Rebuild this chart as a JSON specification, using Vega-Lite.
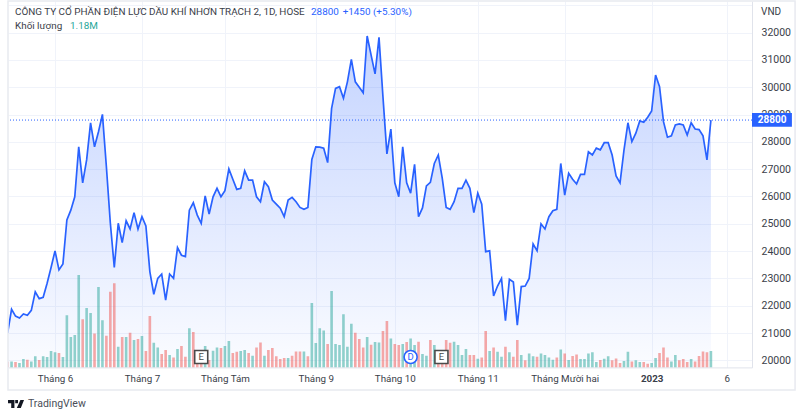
{"$schema":"https://vega.github.io/schema/vega-lite/v6.json","width":744,"height":366.4,"autosize":{"type":"none"},"padding":{"left":8,"top":1,"right":48,"bottom":50.6},"background":"white","config":{"view":{"stroke":null},"font":"Roboto","text":{"font":"Roboto"}},
"datasets":{"s":[
{"i":0,"price":21000,"volume":0.41,"dir":"down"},{"i":1,"price":21870,"volume":0.43,"dir":"up"},{"i":2,"price":21620,"volume":0.39,"dir":"down"},{"i":3,"price":21550,"volume":0.31,"dir":"up"},{"i":4,"price":21700,"volume":0.6,"dir":"up"},{"i":5,"price":21650,"volume":0.56,"dir":"down"},{"i":6,"price":21830,"volume":0.43,"dir":"up"},{"i":7,"price":22510,"volume":0.8,"dir":"up"},{"i":8,"price":22260,"volume":0.53,"dir":"down"},{"i":9,"price":22310,"volume":0.8,"dir":"up"},
{"i":10,"price":22820,"volume":0.75,"dir":"up"},{"i":11,"price":23400,"volume":1.18,"dir":"up"},{"i":12,"price":24010,"volume":1.09,"dir":"up"},{"i":13,"price":23310,"volume":1.04,"dir":"down"},{"i":14,"price":23530,"volume":0.75,"dir":"up"},{"i":15,"price":25140,"volume":3.77,"dir":"up"},{"i":16,"price":25500,"volume":2.2,"dir":"up"},{"i":17,"price":25990,"volume":2.34,"dir":"up"},{"i":18,"price":27820,"volume":6.69,"dir":"up"},{"i":19,"price":26500,"volume":3.48,"dir":"down"},
{"i":20,"price":27340,"volume":4.3,"dir":"up"},{"i":21,"price":28700,"volume":3.94,"dir":"up"},{"i":22,"price":27820,"volume":2.46,"dir":"down"},{"i":23,"price":28370,"volume":5.82,"dir":"up"},{"i":24,"price":29010,"volume":3.41,"dir":"up"},{"i":25,"price":27090,"volume":2.29,"dir":"down"},{"i":26,"price":25030,"volume":5.48,"dir":"down"},{"i":27,"price":23400,"volume":6.09,"dir":"down"},{"i":28,"price":25020,"volume":1.5,"dir":"up"},{"i":29,"price":24310,"volume":2.2,"dir":"down"},
{"i":30,"price":25110,"volume":2.2,"dir":"up"},{"i":31,"price":24810,"volume":2.51,"dir":"down"},{"i":32,"price":25410,"volume":1.98,"dir":"up"},{"i":33,"price":24810,"volume":2.05,"dir":"down"},{"i":34,"price":25260,"volume":2.27,"dir":"up"},{"i":35,"price":24920,"volume":1.18,"dir":"down"},{"i":36,"price":23250,"volume":3.72,"dir":"down"},{"i":37,"price":22420,"volume":1.79,"dir":"up"},{"i":38,"price":23000,"volume":1.45,"dir":"up"},{"i":39,"price":23160,"volume":0.97,"dir":"down"},
{"i":40,"price":22200,"volume":1.26,"dir":"down"},{"i":41,"price":23160,"volume":0.89,"dir":"up"},{"i":42,"price":23000,"volume":0.72,"dir":"down"},{"i":43,"price":24130,"volume":1.33,"dir":"up"},{"i":44,"price":23850,"volume":1.55,"dir":"down"},{"i":45,"price":23800,"volume":0.77,"dir":"down"},{"i":46,"price":25500,"volume":2.83,"dir":"up"},{"i":47,"price":25770,"volume":2.56,"dir":"down"},{"i":48,"price":25320,"volume":0.53,"dir":"down"},{"i":49,"price":25020,"volume":0.29,"dir":"down"},
{"i":50,"price":26020,"volume":1.55,"dir":"up"},{"i":51,"price":25360,"volume":0.53,"dir":"down"},{"i":52,"price":25990,"volume":1.21,"dir":"up"},{"i":53,"price":26300,"volume":1.45,"dir":"up"},{"i":54,"price":25990,"volume":1.4,"dir":"down"},{"i":55,"price":26210,"volume":1.55,"dir":"up"},{"i":56,"price":27010,"volume":1.91,"dir":"up"},{"i":57,"price":26630,"volume":1.04,"dir":"down"},{"i":58,"price":26260,"volume":1.14,"dir":"down"},{"i":59,"price":26300,"volume":1.18,"dir":"up"},
{"i":60,"price":26940,"volume":1.26,"dir":"up"},{"i":61,"price":26600,"volume":1.04,"dir":"down"},{"i":62,"price":26600,"volume":0.85,"dir":"up"},{"i":63,"price":25990,"volume":1.45,"dir":"down"},{"i":64,"price":25810,"volume":1.81,"dir":"down"},{"i":65,"price":26540,"volume":0.85,"dir":"up"},{"i":66,"price":26360,"volume":1.26,"dir":"down"},{"i":67,"price":25870,"volume":1.4,"dir":"down"},{"i":68,"price":25720,"volume":0.8,"dir":"down"},{"i":69,"price":25570,"volume":0.6,"dir":"down"},
{"i":70,"price":25260,"volume":0.68,"dir":"down"},{"i":71,"price":25870,"volume":0.68,"dir":"up"},{"i":72,"price":25970,"volume":0.85,"dir":"down"},{"i":73,"price":25810,"volume":1.16,"dir":"down"},{"i":74,"price":25600,"volume":1.16,"dir":"down"},{"i":75,"price":25530,"volume":1.16,"dir":"up"},{"i":76,"price":25600,"volume":0.8,"dir":"down"},{"i":77,"price":27360,"volume":4.66,"dir":"up"},{"i":78,"price":27820,"volume":1.76,"dir":"up"},{"i":79,"price":27810,"volume":2.83,"dir":"up"},
{"i":80,"price":27770,"volume":2.68,"dir":"up"},{"i":81,"price":27240,"volume":1.69,"dir":"down"},{"i":82,"price":29230,"volume":5.53,"dir":"up"},{"i":83,"price":29960,"volume":1.69,"dir":"up"},{"i":84,"price":30020,"volume":1.62,"dir":"up"},{"i":85,"price":29600,"volume":3.86,"dir":"up"},{"i":86,"price":30200,"volume":1.5,"dir":"up"},{"i":87,"price":31020,"volume":3.16,"dir":"up"},{"i":88,"price":30200,"volume":2.51,"dir":"down"},{"i":89,"price":30000,"volume":2.05,"dir":"down"},
{"i":90,"price":29800,"volume":1.45,"dir":"down"},{"i":91,"price":31880,"volume":2.2,"dir":"up"},{"i":92,"price":31180,"volume":1.64,"dir":"down"},{"i":93,"price":30490,"volume":1.84,"dir":"up"},{"i":94,"price":31830,"volume":1.81,"dir":"up"},{"i":95,"price":29650,"volume":2.63,"dir":"down"},{"i":96,"price":27560,"volume":3.36,"dir":"down"},{"i":97,"price":28470,"volume":2.1,"dir":"up"},{"i":98,"price":26500,"volume":1.69,"dir":"down"},{"i":99,"price":25990,"volume":1.62,"dir":"down"},
{"i":100,"price":27820,"volume":1.69,"dir":"up"},{"i":101,"price":26500,"volume":1.84,"dir":"down"},{"i":102,"price":26120,"volume":2.1,"dir":"up"},{"i":103,"price":27180,"volume":1.62,"dir":"up"},{"i":104,"price":25260,"volume":1.86,"dir":"down"},{"i":105,"price":25580,"volume":0.97,"dir":"up"},{"i":106,"price":26390,"volume":0.85,"dir":"up"},{"i":107,"price":26520,"volume":1.98,"dir":"down"},{"i":108,"price":27210,"volume":1.62,"dir":"up"},{"i":109,"price":27520,"volume":1.26,"dir":"down"},
{"i":110,"price":26670,"volume":1.01,"dir":"down"},{"i":111,"price":25600,"volume":1.98,"dir":"down"},{"i":112,"price":25530,"volume":1.79,"dir":"down"},{"i":113,"price":25810,"volume":1.86,"dir":"up"},{"i":114,"price":26300,"volume":1.62,"dir":"up"},{"i":115,"price":26300,"volume":0.89,"dir":"up"},{"i":116,"price":26600,"volume":1.33,"dir":"up"},{"i":117,"price":26300,"volume":0.89,"dir":"down"},{"i":118,"price":25410,"volume":0.89,"dir":"down"},{"i":119,"price":26120,"volume":0.63,"dir":"up"},
{"i":120,"price":25720,"volume":0.72,"dir":"down"},{"i":121,"price":23980,"volume":2.63,"dir":"down"},{"i":122,"price":24010,"volume":1.18,"dir":"up"},{"i":123,"price":22360,"volume":1.45,"dir":"down"},{"i":124,"price":22720,"volume":1.14,"dir":"up"},{"i":125,"price":23000,"volume":0.77,"dir":"up"},{"i":126,"price":21450,"volume":1.5,"dir":"down"},{"i":127,"price":22970,"volume":1.09,"dir":"up"},{"i":128,"price":22870,"volume":0.77,"dir":"down"},{"i":129,"price":21290,"volume":1.98,"dir":"down"},
{"i":130,"price":22700,"volume":0.89,"dir":"up"},{"i":131,"price":22720,"volume":0.51,"dir":"down"},{"i":132,"price":23000,"volume":1.01,"dir":"up"},{"i":133,"price":24260,"volume":0.8,"dir":"up"},{"i":134,"price":24010,"volume":0.77,"dir":"down"},{"i":135,"price":25000,"volume":1.01,"dir":"up"},{"i":136,"price":24810,"volume":0.89,"dir":"up"},{"i":137,"price":25260,"volume":0.72,"dir":"up"},{"i":138,"price":25480,"volume":0.56,"dir":"up"},{"i":139,"price":25530,"volume":0.72,"dir":"down"},
{"i":140,"price":27210,"volume":1.3,"dir":"up"},{"i":141,"price":26050,"volume":1.01,"dir":"down"},{"i":142,"price":26850,"volume":0.53,"dir":"up"},{"i":143,"price":26630,"volume":0.82,"dir":"down"},{"i":144,"price":26460,"volume":0.94,"dir":"down"},{"i":145,"price":26810,"volume":0.6,"dir":"up"},{"i":146,"price":26810,"volume":0.6,"dir":"up"},{"i":147,"price":27640,"volume":1.01,"dir":"up"},{"i":148,"price":27520,"volume":1.09,"dir":"up"},{"i":149,"price":27770,"volume":0.39,"dir":"up"},
{"i":150,"price":27710,"volume":0.53,"dir":"down"},{"i":151,"price":27970,"volume":0.63,"dir":"up"},{"i":152,"price":27970,"volume":0.8,"dir":"up"},{"i":153,"price":27520,"volume":0.51,"dir":"down"},{"i":154,"price":26750,"volume":0.65,"dir":"down"},{"i":155,"price":26500,"volume":0.31,"dir":"down"},{"i":156,"price":27700,"volume":0.46,"dir":"up"},{"i":157,"price":28700,"volume":1.14,"dir":"up"},{"i":158,"price":28010,"volume":0.43,"dir":"down"},{"i":159,"price":28320,"volume":0.51,"dir":"up"},
{"i":160,"price":28770,"volume":0.39,"dir":"up"},{"i":161,"price":28720,"volume":0.39,"dir":"down"},{"i":162,"price":28900,"volume":0.27,"dir":"down"},{"i":163,"price":29130,"volume":0.31,"dir":"up"},{"i":164,"price":30450,"volume":0.68,"dir":"up"},{"i":165,"price":30020,"volume":1.04,"dir":"down"},{"i":166,"price":28740,"volume":1.45,"dir":"down"},{"i":167,"price":28170,"volume":0.72,"dir":"down"},{"i":168,"price":28220,"volume":0.43,"dir":"up"},{"i":169,"price":28620,"volume":0.89,"dir":"up"},
{"i":170,"price":28660,"volume":0.51,"dir":"down"},{"i":171,"price":28620,"volume":0.6,"dir":"down"},{"i":172,"price":28250,"volume":0.39,"dir":"down"},{"i":173,"price":28700,"volume":0.6,"dir":"up"},{"i":174,"price":28470,"volume":0.43,"dir":"down"},{"i":175,"price":28450,"volume":0.82,"dir":"down"},{"i":176,"price":28220,"volume":1.16,"dir":"down"},{"i":177,"price":27340,"volume":1.09,"dir":"down"},{"i":178,"price":28800,"volume":1.18,"dir":"up"}
]},
"data":{"name":"s"},
"layer":[
{"mark":{"type":"area","clip":true,"color":{"x1":1,"y1":0,"x2":1,"y2":1,"gradient":"linear","stops":[{"offset":0,"color":"rgba(41,98,255,0.28)"},{"offset":1,"color":"rgba(41,98,255,0.02)"}]}},
"encoding":{"x":{"field":"i","type":"quantitative","title":null,"scale":{"domain":[0.1,188.4],"nice":false,"zero":false,"padding":0},"axis":{"values":[12,34,55,78,98,119,141,163,182],"labelExpr":"['Tháng 6','Tháng 7','Tháng Tám','Tháng 9','Tháng 10','Tháng 11','Tháng Mười hai','2023','6'][indexof([12,34,55,78,98,119,141,163,182],datum.value)]","grid":true,"gridColor":"#f0f3fa","gridWidth":1,"domainColor":"#e0e3eb","domainWidth":1,"ticks":false,"labelPadding":6,"labelFontSize":9.8,"labelColor":"#3a3e49","labelFont":"Roboto","labelOverlap":false,"labelFlush":false,"labelFontWeight":{"condition":{"test":"datum.value===163","value":"bold"},"value":"normal"}}},
"y":{"field":"price","type":"quantitative","title":null,"scale":{"domain":[19740,33161],"nice":false,"zero":false},"axis":{"orient":"right","values":[20000,21000,22000,23000,24000,25000,26000,27000,28000,29000,30000,31000,32000,33000],"labelExpr":"datum.value===33000?'':format(datum.value,'d')","grid":true,"gridColor":"#f0f3fa","gridWidth":1,"domainColor":"#e0e3eb","domainWidth":1,"ticks":false,"labelPadding":9,"labelFontSize":10.5,"labelColor":"#3a3e49","labelFont":"Roboto","labelOverlap":false,"labelFlush":false}},
"y2":{"datum":19740}}},
{"mark":{"type":"bar","orient":"vertical","size":2.6,"clip":true,"opacity":0.5},
"encoding":{"x":{"field":"i","type":"quantitative"},"y":{"field":"volume","type":"quantitative","title":null,"scale":{"domain":[0,26.55],"nice":false},"axis":null},"color":{"field":"dir","type":"nominal","legend":null,"scale":{"domain":["up","down"],"range":["#26a69a","#ef5350"]}}}},
{"layer":[
{"mark":{"type":"line","clip":true,"color":"#2962ff","strokeWidth":1.7},"encoding":{"x":{"field":"i","type":"quantitative"},"y":{"field":"price","type":"quantitative","title":null,"scale":{"domain":[19740,33161],"nice":false,"zero":false},"axis":null}}},
{"data":{"values":[{"v":28800}]},"mark":{"type":"rule","color":"#2962ff","strokeDash":[1,2],"strokeWidth":1},"encoding":{"y":{"field":"v","type":"quantitative","axis":null}}},
{"data":{"values":[{"k":"frame"}]},"mark":{"type":"rect","fill":null,"stroke":"#e8eaf0","strokeWidth":1.5,"clip":false},"encoding":{"x":{"datum":0.1},"x2":{"datum":199.3},"y":{"datum":33161,"axis":null},"y2":{"datum":18912}}},
{"data":{"values":[{"k":"tag"}]},"mark":{"type":"rect","fill":"#2962ff","clip":false},"encoding":{"x":{"datum":188.4},"x2":{"datum":198.5},"y":{"datum":29058,"axis":null},"y2":{"datum":28556}}},
{"data":{"values":[{"t":"28800"}]},"mark":{"type":"text","color":"white","fontWeight":"bold","fontSize":10,"align":"center","baseline":"middle"},"encoding":{"text":{"field":"t"},"x":{"datum":193.5},"y":{"datum":28800,"axis":null}}},
{"data":{"values":[{"t":"VND"}]},"mark":{"type":"text","color":"#3a3e49","fontSize":10,"align":"left","baseline":"middle"},"encoding":{"text":{"field":"t"},"x":{"datum":190.7},"y":{"datum":32776,"axis":null}}},
{"data":{"values":[{"t":"CÔNG TY CỔ PHẦN ĐIỆN LỰC DẦU KHÍ NHƠN TRẠCH 2, 1D, HOSE"}]},"mark":{"type":"text","color":"#3a3e49","fontSize":9.9,"align":"left","baseline":"middle"},"encoding":{"text":{"field":"t"},"x":{"datum":1.87},"y":{"datum":32758,"axis":null}}},
{"data":{"values":[{"t":"28800"}]},"mark":{"type":"text","color":"#2962ff","fontSize":9.9,"align":"left","baseline":"middle"},"encoding":{"text":{"field":"t"},"x":{"datum":76.8},"y":{"datum":32758,"axis":null}}},
{"data":{"values":[{"t":"+1450 (+5.30%)"}]},"mark":{"type":"text","color":"#2962ff","fontSize":9.9,"align":"left","baseline":"middle"},"encoding":{"text":{"field":"t"},"x":{"datum":84.8},"y":{"datum":32758,"axis":null}}},
{"data":{"values":[{"t":"Khối lượng"}]},"mark":{"type":"text","color":"#3a3e49","fontSize":9.9,"align":"left","baseline":"middle"},"encoding":{"text":{"field":"t"},"x":{"datum":1.87},"y":{"datum":32227,"axis":null}}},
{"data":{"values":[{"t":"1.18M"}]},"mark":{"type":"text","color":"#26a69a","fontSize":9.9,"align":"left","baseline":"middle"},"encoding":{"text":{"field":"t"},"x":{"datum":15.8},"y":{"datum":32227,"axis":null}}},
{"data":{"values":[{"i":49,"t":"E"},{"i":109.8,"t":"E"}]},"mark":{"type":"point","shape":"square","filled":true,"fill":"white","stroke":"#4a4a4a","strokeWidth":1.6,"size":170,"opacity":1},"encoding":{"x":{"field":"i","type":"quantitative"},"y":{"datum":20120,"axis":null}}},
{"data":{"values":[{"i":102,"t":"D"}]},"mark":{"type":"point","shape":"circle","filled":true,"fill":"white","stroke":"#2962ff","strokeWidth":1.6,"size":170,"opacity":1},"encoding":{"x":{"field":"i","type":"quantitative"},"y":{"datum":20120,"axis":null}}},
{"data":{"values":[{"i":49,"t":"E"},{"i":109.8,"t":"E"}]},"mark":{"type":"text","color":"#4a4a4a","fontSize":9.5,"align":"center","baseline":"middle"},"encoding":{"text":{"field":"t"},"x":{"field":"i","type":"quantitative"},"y":{"datum":20120,"axis":null}}},
{"data":{"values":[{"i":102,"t":"D"}]},"mark":{"type":"text","color":"#2962ff","fontSize":9.5,"align":"center","baseline":"middle"},"encoding":{"text":{"field":"t"},"x":{"field":"i","type":"quantitative"},"y":{"datum":20120,"axis":null}}},
{"data":{"values":[{"k":"logo"}]},"mark":{"type":"point","shape":"M-1 -0.5H-0.2V0.5H-0.6V-0.1H-1ZM0.55 -0.5H1L0.6 0.5H0.1ZM-0.1 -0.5H0.25V-0.1H-0.1Z","filled":true,"fill":"#131722","strokeWidth":0,"size":256,"opacity":1},"encoding":{"x":{"datum":2.13},"y":{"datum":18399,"axis":null}}},
{"data":{"values":[{"t":"TradingView"}]},"mark":{"type":"text","color":"#4a4e59","fontSize":10.5,"align":"left","baseline":"middle"},"encoding":{"text":{"field":"t"},"x":{"datum":5.16},"y":{"datum":18399,"axis":null}}}
]}
],
"resolve":{"scale":{"y":"independent"}}}
